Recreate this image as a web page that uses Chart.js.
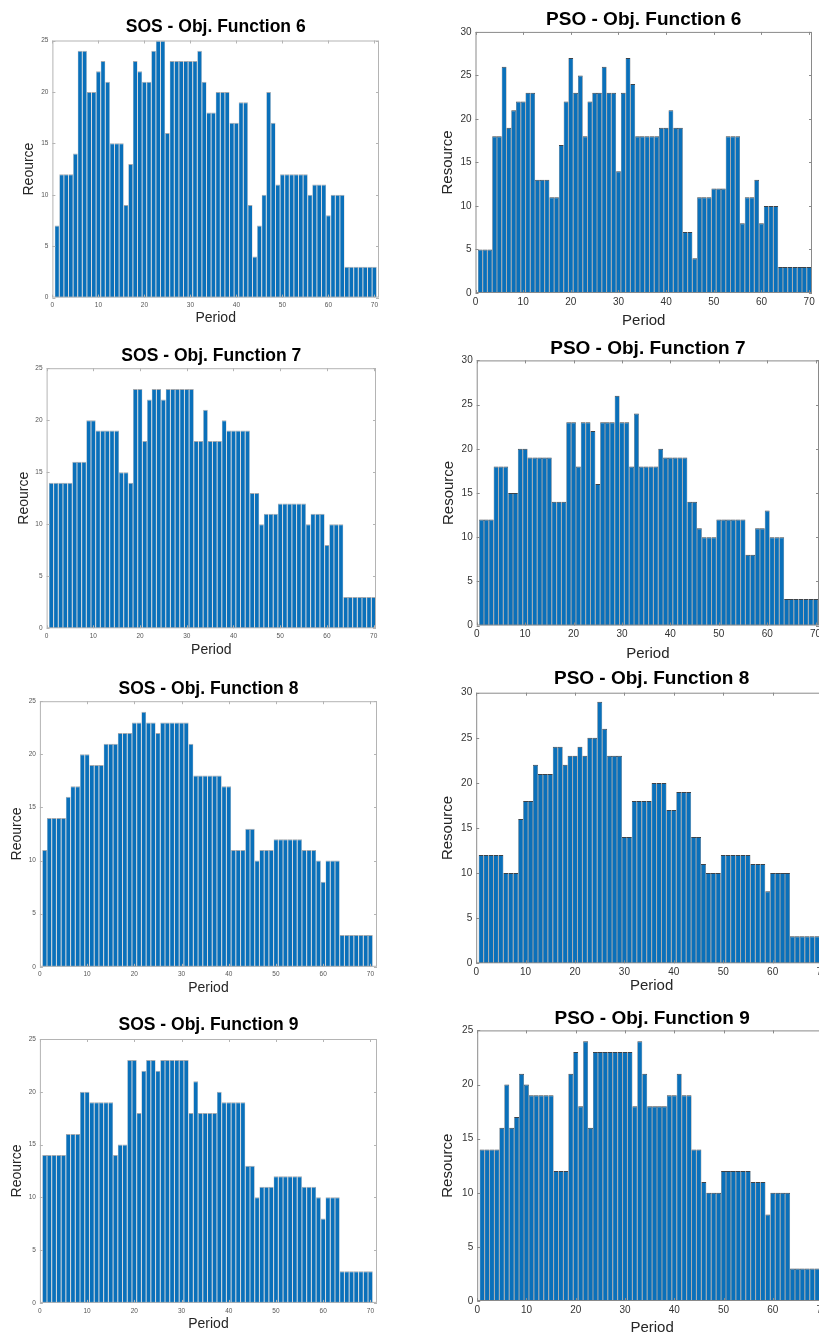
<!DOCTYPE html>
<html>
<head>
<meta charset="utf-8">
<script src="https://cdn.jsdelivr.net/npm/chart.js@4.4.1/dist/chart.umd.min.js"></script>
<style>
html, body { margin: 0; padding: 0; background: #fff; overflow: hidden; width: 819px; height: 1335px; }
canvas { position: absolute; }
</style>
</head>
<body>
<script>
// ---- data ----
var periods = [1,2,3,4,5,6,7,8,9,10,11,12,13,14,15,16,17,18,19,20,21,22,23,24,25,26,27,28,29,30,31,32,33,34,35,
               36,37,38,39,40,41,42,43,44,45,46,47,48,49,50,51,52,53,54,55,56,57,58,59,60,61,62,63,64,65,66,67,68,69,70];

var sosObj6 = [7,12,12,12,14,24,24,20,20,22,23,21,15,15,15,9,13,23,22,21,21,24,25,25,16,23,23,23,23,23,23,24,21,18,18,
               20,20,20,17,17,19,19,9,4,7,10,20,17,11,12,12,12,12,12,12,10,11,11,11,8,10,10,10,3,3,3,3,3,3,3];
var psoObj6 = [5,5,5,18,18,26,19,21,22,22,23,23,13,13,13,11,11,17,22,27,23,25,18,22,23,23,26,23,23,14,23,27,24,18,18,
               18,18,18,19,19,21,19,19,7,7,4,11,11,11,12,12,12,18,18,18,8,11,11,13,8,10,10,10,3,3,3,3,3,3,3];
var sosObj7 = [14,14,14,14,14,16,16,16,20,20,19,19,19,19,19,15,15,14,23,23,18,22,23,23,22,23,23,23,23,23,23,18,18,21,18,
               18,18,20,19,19,19,19,19,13,13,10,11,11,11,12,12,12,12,12,12,10,11,11,11,8,10,10,10,3,3,3,3,3,3,3];
var psoObj7 = [12,12,12,18,18,18,15,15,20,20,19,19,19,19,19,14,14,14,23,23,18,23,23,22,16,23,23,23,26,23,23,18,24,18,18,
               18,18,20,19,19,19,19,19,14,14,11,10,10,10,12,12,12,12,12,12,8,8,11,11,13,10,10,10,3,3,3,3,3,3,3];
var sosObj8 = [11,14,14,14,14,16,17,17,20,20,19,19,19,21,21,21,22,22,22,23,23,24,23,23,22,23,23,23,23,23,23,21,18,18,18,
               18,18,18,17,17,11,11,11,13,13,10,11,11,11,12,12,12,12,12,12,11,11,11,10,8,10,10,10,3,3,3,3,3,3,3];
var psoObj8 = [12,12,12,12,12,10,10,10,16,18,18,22,21,21,21,24,24,22,23,23,24,23,25,25,29,26,23,23,23,14,14,18,18,18,18,
               20,20,20,17,17,19,19,19,14,14,11,10,10,10,12,12,12,12,12,12,11,11,11,8,10,10,10,10,3,3,3,3,3,3,3];
var sosObj9 = [14,14,14,14,14,16,16,16,20,20,19,19,19,19,19,14,15,15,23,23,18,22,23,23,22,23,23,23,23,23,23,18,21,18,18,
               18,18,20,19,19,19,19,19,13,13,10,11,11,11,12,12,12,12,12,12,11,11,11,10,8,10,10,10,3,3,3,3,3,3,3];
var psoObj9 = [14,14,14,14,16,20,16,17,21,20,19,19,19,19,19,12,12,12,21,23,18,24,16,23,23,23,23,23,23,23,23,18,24,21,18,
               18,18,18,19,19,21,19,19,14,14,11,10,10,10,12,12,12,12,12,12,11,11,11,8,10,10,10,10,3,3,3,3,3,3,3];

var xTicks = [0,10,20,30,40,50,60,70];
var yTicks25 = [0,5,10,15,20,25];
var yTicks30 = [0,5,10,15,20,25,30];

// ---- layout: plot box in page pixels ----
var panels = [
  {title:'SOS - Obj. Function 6', values:sosObj6, yLabel:'Reource',  yTicks:yTicks25, xMax:71,   kind:'sos', L:52,    R:378,   T:40,    B:297,    titleY:27,     yTitleX:29,    periodY:318},
  {title:'PSO - Obj. Function 6', values:psoObj6, yLabel:'Resource', yTicks:yTicks30, xMax:70.6, kind:'pso', L:475,   R:811,   T:32,    B:293,    titleY:19.5,   yTitleX:447.5, periodY:321},
  {title:'SOS - Obj. Function 7', values:sosObj7, yLabel:'Reource',  yTicks:yTicks25, xMax:70.5, kind:'sos', L:46.7,  R:375.7, T:367.7, B:627.7,  titleY:356,    yTitleX:24.5,  periodY:650},
  {title:'PSO - Obj. Function 7', values:psoObj7, yLabel:'Resource', yTicks:yTicks30, xMax:70.7, kind:'pso', L:476.7, R:818.4, T:360,   B:625,    titleY:348,    yTitleX:449,   periodY:653.5},
  {title:'SOS - Obj. Function 8', values:sosObj8, yLabel:'Reource',  yTicks:yTicks25, xMax:71.4, kind:'sos', L:40,    R:376.6, T:700.7, B:965.7,  titleY:689,    yTitleX:17.5,  periodY:987.5},
  {title:'PSO - Obj. Function 8', values:psoObj8, yLabel:'Resource', yTicks:yTicks30, xMax:71,   kind:'pso', L:475.7, R:826,   T:692.3, B:962.3,  titleY:678,    yTitleX:447.5, periodY:985},
  {title:'SOS - Obj. Function 9', values:sosObj9, yLabel:'Reource',  yTicks:yTicks25, xMax:71.4, kind:'sos', L:40,    R:376.6, T:1039,  B:1302.3, titleY:1025.5, yTitleX:17.5,  periodY:1324},
  {title:'PSO - Obj. Function 9', values:psoObj9, yLabel:'Resource', yTicks:yTicks25, xMax:71,   kind:'pso', L:476.7, R:825.8, T:1030,  B:1300,   titleY:1018,   yTitleX:447.5, periodY:1327}
];

var looks = {
  sos: {titleSize:17.5, axisSize:14, tickSize:6.5, tickColor:'#555', edge:'#a2a8ae', box:'#b4b4b4'},
  pso: {titleSize:19,   axisSize:15, tickSize:10,  tickColor:'#333', edge:'#3c4248', box:'#8a8a8a'}
};
var FONT = '"Liberation Sans", Arial, Helvetica, sans-serif';
var RIGHT_PAD = 12;

// box around the axes with inward tick marks, like MATLAB
var boxTicks = {
  id: 'boxTicks',
  afterDatasetsDraw: function(chart, args, opts) {
    var a = chart.chartArea, ctx = chart.ctx, xs = chart.scales.x, ys = chart.scales.y;
    ctx.save();
    ctx.strokeStyle = opts.color;
    ctx.lineWidth = 1;
    ctx.strokeRect(a.left + 0.5, a.top + 0.5, a.right - a.left - 1, a.bottom - a.top - 1);
    ctx.beginPath();
    xs.ticks.forEach(function(t) {
      var px = Math.round(xs.getPixelForValue(t.value)) + 0.5;
      ctx.moveTo(px, a.bottom); ctx.lineTo(px, a.bottom - 3);
      ctx.moveTo(px, a.top); ctx.lineTo(px, a.top + 3);
    });
    ys.ticks.forEach(function(t) {
      var py = Math.round(ys.getPixelForValue(t.value)) + 0.5;
      ctx.moveTo(a.left, py); ctx.lineTo(a.left + 3, py);
      ctx.moveTo(a.right, py); ctx.lineTo(a.right - 3, py);
    });
    ctx.stroke();
    ctx.restore();
  }
};

panels.forEach(function(p) {
  var lk = looks[p.kind];
  var axisLH = lk.axisSize * 1.2;
  var titleLH = lk.titleSize * 1.2;

  var left = p.yTitleX - axisLH / 2;
  var top = p.titleY - titleLH / 2;
  var yw = p.L - left;
  var xh = p.periodY + axisLH / 2 - p.B;
  var padB = p.T - top - titleLH;
  var w = Math.ceil(p.R - left + RIGHT_PAD);
  var h = Math.ceil(p.B + xh - top);

  var cv = document.createElement('canvas');
  cv.width = w; cv.height = h;
  cv.style.left = left + 'px';
  cv.style.top = top + 'px';
  cv.style.width = w + 'px';
  cv.style.height = h + 'px';
  document.body.appendChild(cv);

  var points = p.values.map(function(v, i) { return {x: periods[i], y: v}; });

  new Chart(cv, {
    type: 'bar',
    data: {
      datasets: [{
        data: points,
        backgroundColor: '#0a70ba',
        borderColor: lk.edge,
        borderWidth: {top: 1, left: 0.5, right: 0.5, bottom: 0},
        inflateAmount: 0,
        barPercentage: 1,
        categoryPercentage: 1
      }]
    },
    options: {
      responsive: false,
      animation: false,
      events: [],
      layout: {padding: {left: 0, right: RIGHT_PAD, top: 0, bottom: 0}},
      plugins: {
        legend: {display: false},
        tooltip: {enabled: false},
        title: {
          display: true, text: p.title, fullSize: false, color: '#000',
          font: {family: FONT, size: lk.titleSize, weight: 'bold'},
          padding: {top: 0, bottom: padB}
        },
        boxTicks: {color: lk.box}
      },
      scales: {
        x: {
          type: 'linear', min: 0, max: p.xMax, offset: false,
          grid: {display: false, drawTicks: false},
          border: {display: false},
          afterBuildTicks: function(s) { s.ticks = xTicks.map(function(v) { return {value: v}; }); },
          afterFit: function(s) { s.height = xh; },
          ticks: {font: {family: FONT, size: lk.tickSize}, color: lk.tickColor, padding: p.kind === 'sos' ? 4 : 3, maxRotation: 0, autoSkip: false},
          title: {display: true, text: 'Period', color: '#262626', font: {family: FONT, size: lk.axisSize}, padding: 0}
        },
        y: {
          min: 0, max: p.yTicks[p.yTicks.length - 1],
          grid: {display: false, drawTicks: false},
          border: {display: false},
          afterBuildTicks: function(s) { s.ticks = p.yTicks.map(function(v) { return {value: v}; }); },
          afterFit: function(s) { s.width = yw; },
          ticks: {font: {family: FONT, size: lk.tickSize}, color: lk.tickColor, padding: 4, autoSkip: false},
          title: {display: true, text: p.yLabel, color: '#262626', font: {family: FONT, size: lk.axisSize}, padding: 0}
        }
      }
    },
    plugins: [boxTicks]
  });
});
</script>
</body>
</html>
